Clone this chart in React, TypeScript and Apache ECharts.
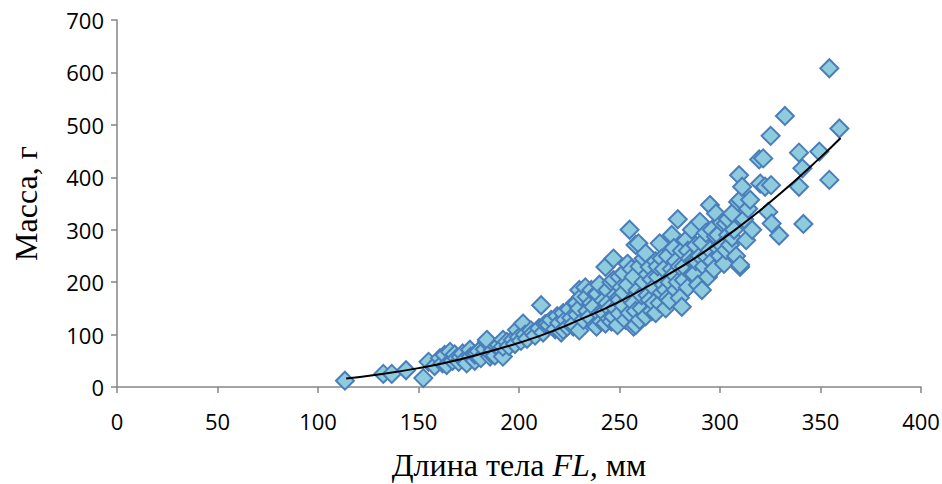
import React, { useEffect, useRef } from "react";
import * as echarts from "echarts";

const xTicks = [0, 50, 100, 150, 200, 250, 300, 350, 400];
const yTicks = [0, 100, 200, 300, 400, 500, 600, 700];

// Body length FL (mm) and mass (g)
const smallFish: number[][] = [
  [113.4, 12], [132.5, 25], [136.7, 25], [143.8, 32], [152.4, 17], [155, 48], [158, 40],
  [160.7, 55], [162, 45], [163, 61], [164, 42], [165.7, 67], [167, 50], [168, 62],
  [169, 55], [170, 48], [171, 57], [172, 64], [173, 52], [174, 45], [175.6, 71],
  [176, 58], [178, 50], [178, 62], [179, 64], [180, 68], [181, 55], [183, 72],
  [184, 86], [184, 90], [185.6, 58], [186, 64], [187, 70], [188, 60], [189, 77],
  [190, 80], [191, 72], [192, 58], [192, 90], [192, 77], [194, 86], [195, 78],
  [197, 90], [198, 82], [199, 109], [200, 95], [201, 88], [202, 121], [203, 100],
  [204, 92], [206, 108], [207, 103], [208, 98],
];
const midFish: number[][] = [
  [210, 112], [211, 156], [212, 104], [213, 120], [214, 121], [215, 118], [216, 128],
  [218, 110], [219, 135], [220, 122], [221, 104], [222, 141], [222, 109], [223, 128],
  [224, 115], [225, 148], [226, 132], [227, 115], [227, 120], [228, 160], [228.7, 160],
  [229, 138], [230, 108], [230, 150], [230, 185], [231, 172], [232, 128], [233, 190],
  [233.7, 172], [234, 145], [235, 134], [236, 160], [236, 185], [237, 153], [238, 118],
  [238.6, 179], [238.6, 115], [239, 178], [240, 195], [240, 140], [241, 125], [242, 165],
  [242, 142], [243, 229], [243, 121], [244, 185], [244, 160], [245, 150], [245, 130],
  [246, 200], [246, 125], [247, 245], [247, 134], [247, 204], [248, 175], [248, 150],
  [249, 118], [250, 172], [250, 210], [250, 140], [250, 166], [251, 190], [252, 217],
  [252, 155], [252, 180], [253, 128], [254, 235], [254, 195], [255, 300], [255, 141],
  [256, 165], [256, 225], [257, 160], [257, 210], [257, 115], [258, 271], [258, 118],
  [258, 145], [259, 185], [259.4, 274], [260, 128], [260, 230], [261, 150], [261, 175],
  [262, 200], [262, 245], [263, 255], [263, 135], [264, 175], [264, 215], [265, 229],
  [265, 166], [266, 145], [266, 205], [267, 190], [267, 160], [268, 141], [268, 240],
  [269, 210], [269, 230], [270, 274], [270, 160], [271, 180], [271, 245], [272, 225],
  [272, 195], [273, 185], [273, 150], [274, 250], [274, 170], [275, 200], [275, 165],
  [276, 290], [276, 225], [277, 215], [277, 265], [278, 185], [278, 240], [279, 320],
  [279, 200], [280, 230], [280, 170], [281, 153], [281, 260], [282, 204], [282, 230],
  [283, 280], [284, 190], [284, 260], [285, 245],
];
const largeFish: number[][] = [
  [286, 300], [286, 215], [287, 242], [287, 215], [288, 270], [288, 240], [289, 195],
  [290, 315], [290, 250], [291, 185], [291, 275], [292, 230], [293, 294], [293, 250],
  [294, 210], [295, 347], [295, 261], [296, 240], [296, 300], [297, 225], [298, 287],
  [298, 331], [299, 265], [299, 290], [300, 250], [301, 313], [301, 270], [302, 235],
  [303, 261], [303, 312], [304, 290], [304, 320], [305, 271], [306, 331], [306, 285],
  [307, 300], [308, 250], [309, 353], [309.5, 404], [310, 229], [310, 233], [310, 357],
  [311, 382], [312, 320], [313, 280], [314, 340], [315, 357], [316, 300], [319.5, 434],
  [321.5, 436], [320, 388], [322.4, 382], [325.4, 385], [324, 334], [325.7, 312],
  [325.2, 479], [329.4, 289], [332.3, 517], [339.3, 447], [339.3, 382], [341, 417],
  [341.5, 311], [349.4, 449], [354.4, 608], [354.4, 395], [359.4, 493],
];
// Power trend line
const trendLine: number[][] = [
  [114, 16], [130, 24], [150, 36], [170, 52], [190, 73], [210, 97], [230, 128],
  [250, 163], [270, 205], [290, 252], [310, 307], [330, 369], [350, 438], [360, 475],
];

const xTitle = "Длина тела ";
const xTitleItalic = "FL,";
const xTitleEnd = " мм";
const yTitle = "Масса, г";

export default function App() {
  const ref = useRef<HTMLDivElement>(null);
  useEffect(() => {
    if (!ref.current) return;
    const chart = echarts.init(ref.current, undefined, { renderer: "svg" });
    const axisColor = "#868686";
    const labelFont = { fontFamily: "Open Sans", fontSize: 22, color: "#000" };
    chart.setOption({
      animation: false,
      backgroundColor: "#fff",
      grid: { left: 117, right: 21, top: 20, bottom: 97, containLabel: false, outerBoundsMode: "none" },
      xAxis: {
        type: "value",
        min: xTicks[0],
        max: xTicks[xTicks.length - 1],
        interval: 50,
        axisLine: { show: true, onZero: false, lineStyle: { color: axisColor, width: 1.5 } },
        axisTick: { show: true, length: 6, inside: false, lineStyle: { color: axisColor, width: 1.5 } },
        splitLine: { show: false },
        axisLabel: { ...labelFont, margin: 23 },
        name: `{n|${xTitle}}{i|${xTitleItalic}}{n|${xTitleEnd}}`,
        nameLocation: "middle",
        nameGap: 62,
        nameTextStyle: {
          rich: {
            n: { fontFamily: "Liberation Serif", fontSize: 32, color: "#000" },
            i: { fontFamily: "Liberation Serif", fontSize: 32, fontStyle: "italic", color: "#000" },
          },
        },
      },
      yAxis: {
        type: "value",
        min: yTicks[0],
        max: yTicks[yTicks.length - 1],
        interval: 100,
        axisLine: { show: true, lineStyle: { color: axisColor, width: 1.5 } },
        axisTick: { show: true, length: 6, inside: false, lineStyle: { color: axisColor, width: 1.5 } },
        splitLine: { show: false },
        axisLabel: { ...labelFont, margin: 13 },
        name: yTitle,
        nameLocation: "middle",
        nameGap: 75,
        nameTextStyle: { fontFamily: "Liberation Serif", fontSize: 32, color: "#000" },
      },
      series: [
        {
          type: "scatter",
          data: [...smallFish, ...midFish, ...largeFish],
          symbol: "diamond",
          symbolSize: 18,
          itemStyle: { color: "#8ECBDD", borderColor: "#4A7EBB", borderWidth: 2, opacity: 1 },
          z: 2,
        },
        {
          type: "line",
          data: trendLine,
          smooth: true,
          showSymbol: false,
          symbol: "none",
          lineStyle: { color: "#000", width: 2 },
          z: 3,
        },
      ],
    });
    return () => chart.dispose();
  }, []);
  return (
    <div
      ref={ref}
      style={{ position: "fixed", left: 0, top: 0, width: 942, height: 484, background: "#fff" }}
    />
  );
}
